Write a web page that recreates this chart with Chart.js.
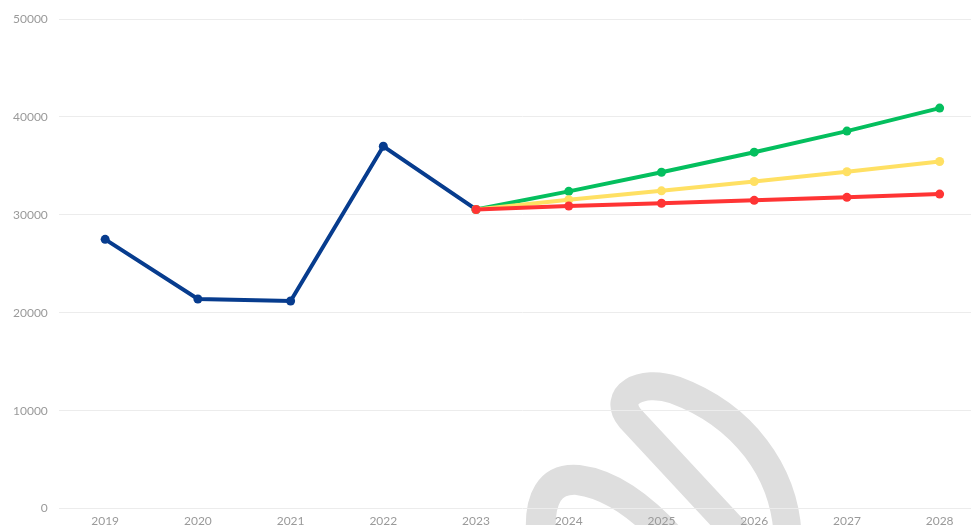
<!DOCTYPE html>
<html>
<head>
<meta charset="utf-8">
<script src="https://cdn.jsdelivr.net/npm/chart.js@4/dist/chart.umd.min.js"></script>
<style>
html,body{margin:0;padding:0;background:#fff;overflow:hidden;}
#wrap{position:relative;width:991px;height:533px;}
</style>
</head>
<body>
<div id="wrap"><canvas id="c"></canvas></div>
<script>
const years = ['2019','2020','2021','2022','2023','2024','2025','2026','2027','2028'];
const historical = [27500, 21400, 21200, 37000, 30550, null, null, null, null, null];
const optimistic = [null, null, null, null, 30550, 32400, 34350, 36400, 38550, 40900];
const moderate   = [null, null, null, null, 30550, 31550, 32450, 33400, 34400, 35450];
const pessimistic= [null, null, null, null, 30550, 30900, 31180, 31480, 31790, 32120];
const yTicks = [0, 10000, 20000, 30000, 40000, 50000];

const watermark = {
  id: 'watermark',
  beforeDraw(chart) {
    const ctx = chart.ctx;
    ctx.save();
    ctx.strokeStyle = '#dedede';
    ctx.lineCap = 'butt';
    ctx.lineJoin = 'round';
    ctx.lineWidth = 28;
    ctx.beginPath();
    ctx.moveTo(748, 545);
    ctx.lineTo(630, 418);
    ctx.bezierCurveTo(612, 396, 640, 378, 675, 390);
    ctx.bezierCurveTo(740, 414, 788, 470, 788, 545);
    ctx.stroke();
    ctx.lineWidth = 30;
    ctx.beginPath();
    ctx.moveTo(542, 545);
    ctx.bezierCurveTo(536, 495, 552, 478, 578, 480);
    ctx.bezierCurveTo(610, 484, 640, 505, 672, 540);
    ctx.stroke();
    ctx.restore();
  }
};

function ds(data, color, order) {
  return {
    data: data,
    order: order,
    borderColor: color,
    backgroundColor: color,
    borderWidth: 4,
    pointRadius: 4.5,
    pointHoverRadius: 5,
    pointBorderWidth: 0,
    tension: 0,
    spanGaps: false,
    fill: false
  };
}

new Chart(document.getElementById('c'), {
  type: 'line',
  data: {
    labels: years,
    datasets: [
      ds(historical, '#073c8e', 3),
      ds(optimistic, '#04bf5e', 2),
      ds(moderate, '#ffe063', 1),
      ds(pessimistic, '#ff3434', 0)
    ]
  },
  options: {
    responsive: true,
    maintainAspectRatio: false,
    animation: false,
    layout: { padding: { top: 19, left: 2, right: 0, bottom: 0 } },
    plugins: { legend: { display: false }, tooltip: { enabled: false } },
    scales: {
      x: {
        offset: true,
        grid: { display: false, drawTicks: false },
        border: { display: false },
        ticks: { color: '#9a9a9a', font: { family: 'Lato', size: 12 }, padding: 5, maxRotation: 0, autoSkip: false }
      },
      y: {
        min: 0, max: 50000,
        afterBuildTicks(axis) { axis.ticks = yTicks.map(v => ({ value: v })); },
        grid: { color: '#ececec', lineWidth: 1, drawTicks: false },
        border: { display: false },
        ticks: { color: '#9a9a9a', font: { family: 'Lato', size: 12 }, padding: 11, callback: v => String(v) }
      }
    }
  },
  plugins: [watermark]
});
</script>
</body>
</html>
